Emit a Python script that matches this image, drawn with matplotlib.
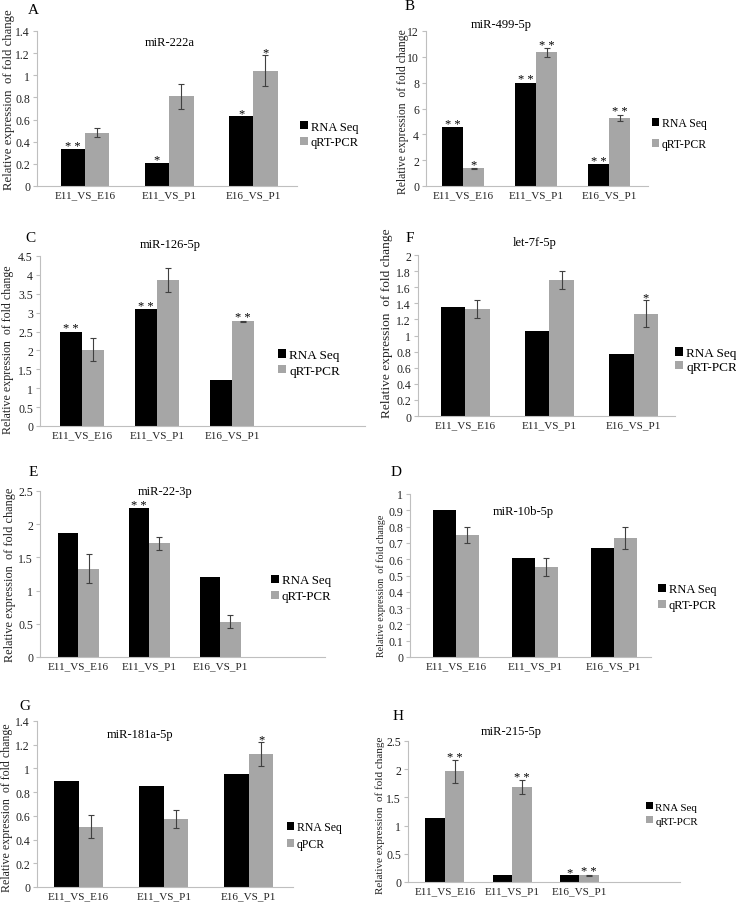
import numpy as np
import matplotlib
matplotlib.use("Agg")
import matplotlib.pyplot as plt
from matplotlib.ticker import FuncFormatter

plt.rcParams['font.family'] = ['Liberation Serif', 'DejaVu Serif']

W, H = 736, 904
BLACK = "black"
GRAY = "#a6a6a6"
AXIS = "#bfbfbf"

categories = ["E11_VS_E16", "E11_VS_P1", "E16_VS_P1"]
ylabel = "Relative expression  of fold change"

# A  miR-222a
a_rna = [0.33, 0.21, 0.63]
a_qpcr = [0.48, 0.81, 1.04]
a_err = [0.04, 0.11, 0.14]
a_rna_sig = ["**", "*", "*"]
a_qpcr_sig = ["", "", "*"]

# B  miR-499-5p
b_rna = [4.55, 8.0, 1.7]
b_qpcr = [1.38, 10.35, 5.28]
b_err = [0.05, 0.35, 0.25]
b_rna_sig = ["**", "**", "**"]
b_qpcr_sig = ["*", "**", "**"]

# C  miR-126-5p
c_rna = [2.5, 3.1, 1.23]
c_qpcr = [2.02, 3.86, 2.77]
c_err = [0.3, 0.32, 0.02]
c_rna_sig = ["**", "**", ""]
c_qpcr_sig = ["", "", "**"]

# F  let-7f-5p
f_rna = [1.36, 1.05, 0.77]
f_qpcr = [1.33, 1.69, 1.27]
f_err = [0.11, 0.11, 0.17]
f_rna_sig = ["", "", ""]
f_qpcr_sig = ["", "", "*"]

# E  miR-22-3p
e_rna = [1.86, 2.24, 1.2]
e_qpcr = [1.33, 1.71, 0.53]
e_err = [0.22, 0.1, 0.1]
e_rna_sig = ["", "**", ""]
e_qpcr_sig = ["", "", ""]

# D  miR-10b-5p
d_rna = [0.9, 0.605, 0.67]
d_qpcr = [0.75, 0.55, 0.73]
d_err = [0.05, 0.055, 0.07]
d_rna_sig = ["", "", ""]
d_qpcr_sig = ["", "", ""]

# G  miR-181a-5p
g_rna = [0.89, 0.85, 0.95]
g_qpcr = [0.51, 0.575, 1.12]
g_err = [0.1, 0.075, 0.1]
g_rna_sig = ["", "", ""]
g_qpcr_sig = ["", "", "*"]

# H  miR-215-5p
h_rna = [1.14, 0.13, 0.12]
h_qpcr = [1.96, 1.68, 0.12]
h_err = [0.2, 0.12, 0.01]
h_rna_sig = ["", "", "*"]
h_qpcr_sig = ["**", "**", "**"]

# layout in pixels: axes box (left, right, y of zero line, y of top), legend (x, y of first row,
# row spacing, font size), y label (x, y, size), title (x, y), letter (x, y)
panels = [
    dict(letter="A", title="miR-222a", rna=a_rna, qpcr=a_qpcr, err=a_err, rs=a_rna_sig, qs=a_qpcr_sig,
         qlabel="qRT-PCR", ymax=1.4, ystep=0.2, box=(37, 297, 187, 32), xlim=(-0.57, 2.52),
         leg=(300, 129, 18, 9), yl=(9, 100, 9.2), tt=(170, 43), lt=(33, 10)),
    dict(letter="B", title="miR-499-5p", rna=b_rna, qpcr=b_qpcr, err=b_err, rs=b_rna_sig, qs=b_qpcr_sig,
         qlabel="qRT-PCR", ymax=12, ystep=2, box=(426, 648, 187, 32), xlim=(-0.51, 2.53),
         leg=(652, 125, 23, 8.5), yl=(403, 112, 8.4), tt=(501, 25), lt=(410, 7)),
    dict(letter="C", title="miR-126-5p", rna=c_rna, qpcr=c_qpcr, err=c_err, rs=c_rna_sig, qs=c_qpcr_sig,
         qlabel="qRT-PCR", ymax=4.5, ystep=0.5, box=(40, 365, 427, 257), xlim=(-0.56, 3.77),
         leg=(278, 358, 19, 9.5), yl=(8, 350, 8.6), tt=(170, 245), lt=(30, 238)),
    dict(letter="F", title="let-7f-5p", rna=f_rna, qpcr=f_qpcr, err=f_err, rs=f_rna_sig, qs=f_qpcr_sig,
         qlabel="qRT-PCR", ymax=2, ystep=0.2, box=(418, 675, 417, 256), xlim=(-0.56, 2.49),
         leg=(675, 356, 17, 9.5), yl=(387, 323, 9.6), tt=(535, 243), lt=(410, 238)),
    dict(letter="E", title="miR-22-3p", rna=e_rna, qpcr=e_qpcr, err=e_err, rs=e_rna_sig, qs=e_qpcr_sig,
         qlabel="qRT-PCR", ymax=2.5, ystep=0.5, box=(40, 325, 658, 492), xlim=(-0.54, 3.48),
         leg=(271, 583, 19, 9.3), yl=(10, 575, 8.8), tt=(165, 492), lt=(33, 473)),
    dict(letter="D", title="miR-10b-5p", rna=d_rna, qpcr=d_qpcr, err=d_err, rs=d_rna_sig, qs=d_qpcr_sig,
         qlabel="qRT-PCR", ymax=1, ystep=0.1, box=(410, 651, 658, 495), xlim=(-0.58, 2.47),
         leg=(658, 592, 18, 9), yl=(381, 586, 7.2), tt=(523, 512), lt=(396, 473)),
    dict(letter="G", title="miR-181a-5p", rna=g_rna, qpcr=g_qpcr, err=g_err, rs=g_rna_sig, qs=g_qpcr_sig,
         qlabel="qPCR", ymax=1.4, ystep=0.2, box=(37, 293, 888, 722), xlim=(-0.49, 2.52),
         leg=(287, 829, 19, 8.5), yl=(7, 808, 8.6), tt=(140, 735), lt=(25, 707)),
    dict(letter="H", title="miR-215-5p", rna=h_rna, qpcr=h_qpcr, err=h_err, rs=h_rna_sig, qs=h_qpcr_sig,
         qlabel="qRT-PCR", ymax=2.5, ystep=0.5, box=(408, 680, 883, 742), xlim=(-0.55, 3.5),
         leg=(646, 810, 17, 7.9), yl=(380, 815, 8), tt=(511, 732), lt=(398, 717)),
]

fig = plt.figure(figsize=(W / 100, H / 100), dpi=100)


def star_text(s):
    return " ".join(s)


def draw_panel(p):
    l, r, y0, yt = p["box"]
    ax = fig.add_axes([l / W, 1 - y0 / H, (r - l) / W, (y0 - yt) / H])
    x = np.arange(len(categories))
    w = 0.29
    b1 = ax.bar(x - w / 2, p["rna"], w, color=BLACK, label="RNA Seq")
    b2 = ax.bar(x + w / 2, p["qpcr"], w, color=GRAY, label=p["qlabel"],
                yerr=p["err"], capsize=2,
                error_kw=dict(ecolor="#404040", elinewidth=0.8, capthick=0.8))

    for xi, v, s in zip(x, p["rna"], p["rs"]):
        if s:
            ax.annotate(star_text(s), (xi - w / 2, v), xytext=(0, -2), textcoords="offset points",
                        ha="center", va="bottom", fontsize=9)
    for xi, v, e, s in zip(x, p["qpcr"], p["err"], p["qs"]):
        if s:
            ax.annotate(star_text(s), (xi + w / 2, v + e), xytext=(0, -2), textcoords="offset points",
                        ha="center", va="bottom", fontsize=9)

    ax.set_xlim(*p["xlim"])
    ax.set_ylim(0, p["ymax"])
    ax.set_xticks(x)
    ax.set_xticklabels(categories)
    ax.set_yticks(np.arange(0, p["ymax"] + p["ystep"] / 2, p["ystep"]))
    ax.yaxis.set_major_formatter(FuncFormatter(lambda v, _: f"{round(v, 2):g}"))
    for side in ["top", "right"]:
        ax.spines[side].set_visible(False)
    for side in ["left", "bottom"]:
        ax.spines[side].set_color(AXIS)
        ax.spines[side].set_linewidth(0.8)
    ax.tick_params(axis="y", length=3, color=AXIS, labelsize=8.5, pad=2, labelcolor="#222222")
    ax.tick_params(axis="x", length=0, labelsize=8, pad=3, labelcolor="#222222")
    ax.patch.set_alpha(0)

    lx, ly, sp, fs = p["leg"]
    fs_px = fs * 100 / 72
    ax.legend([b1, b2], ["RNA Seq", p["qlabel"]], loc="upper left",
              bbox_to_anchor=(lx / W, 1 - (ly - 0.6 * fs_px) / H), bbox_transform=fig.transFigure,
              frameon=False, fontsize=fs, handlelength=0.6, handleheight=0.6,
              handletextpad=0.25, labelspacing=max(sp / fs_px - 1.15, 0.1),
              borderpad=0, borderaxespad=0)

    yx, yy, yfs = p["yl"]
    fig.text(yx / W, 1 - yy / H, ylabel, rotation=90, ha="center", va="center", fontsize=yfs,
             color="#222222")
    fig.text(p["tt"][0] / W, 1 - p["tt"][1] / H, p["title"], ha="center", va="center", fontsize=9)
    fig.text(p["lt"][0] / W, 1 - p["lt"][1] / H, p["letter"], ha="center", va="center", fontsize=11)


for p in panels:
    draw_panel(p)

fig.savefig("out.png", dpi=100)
